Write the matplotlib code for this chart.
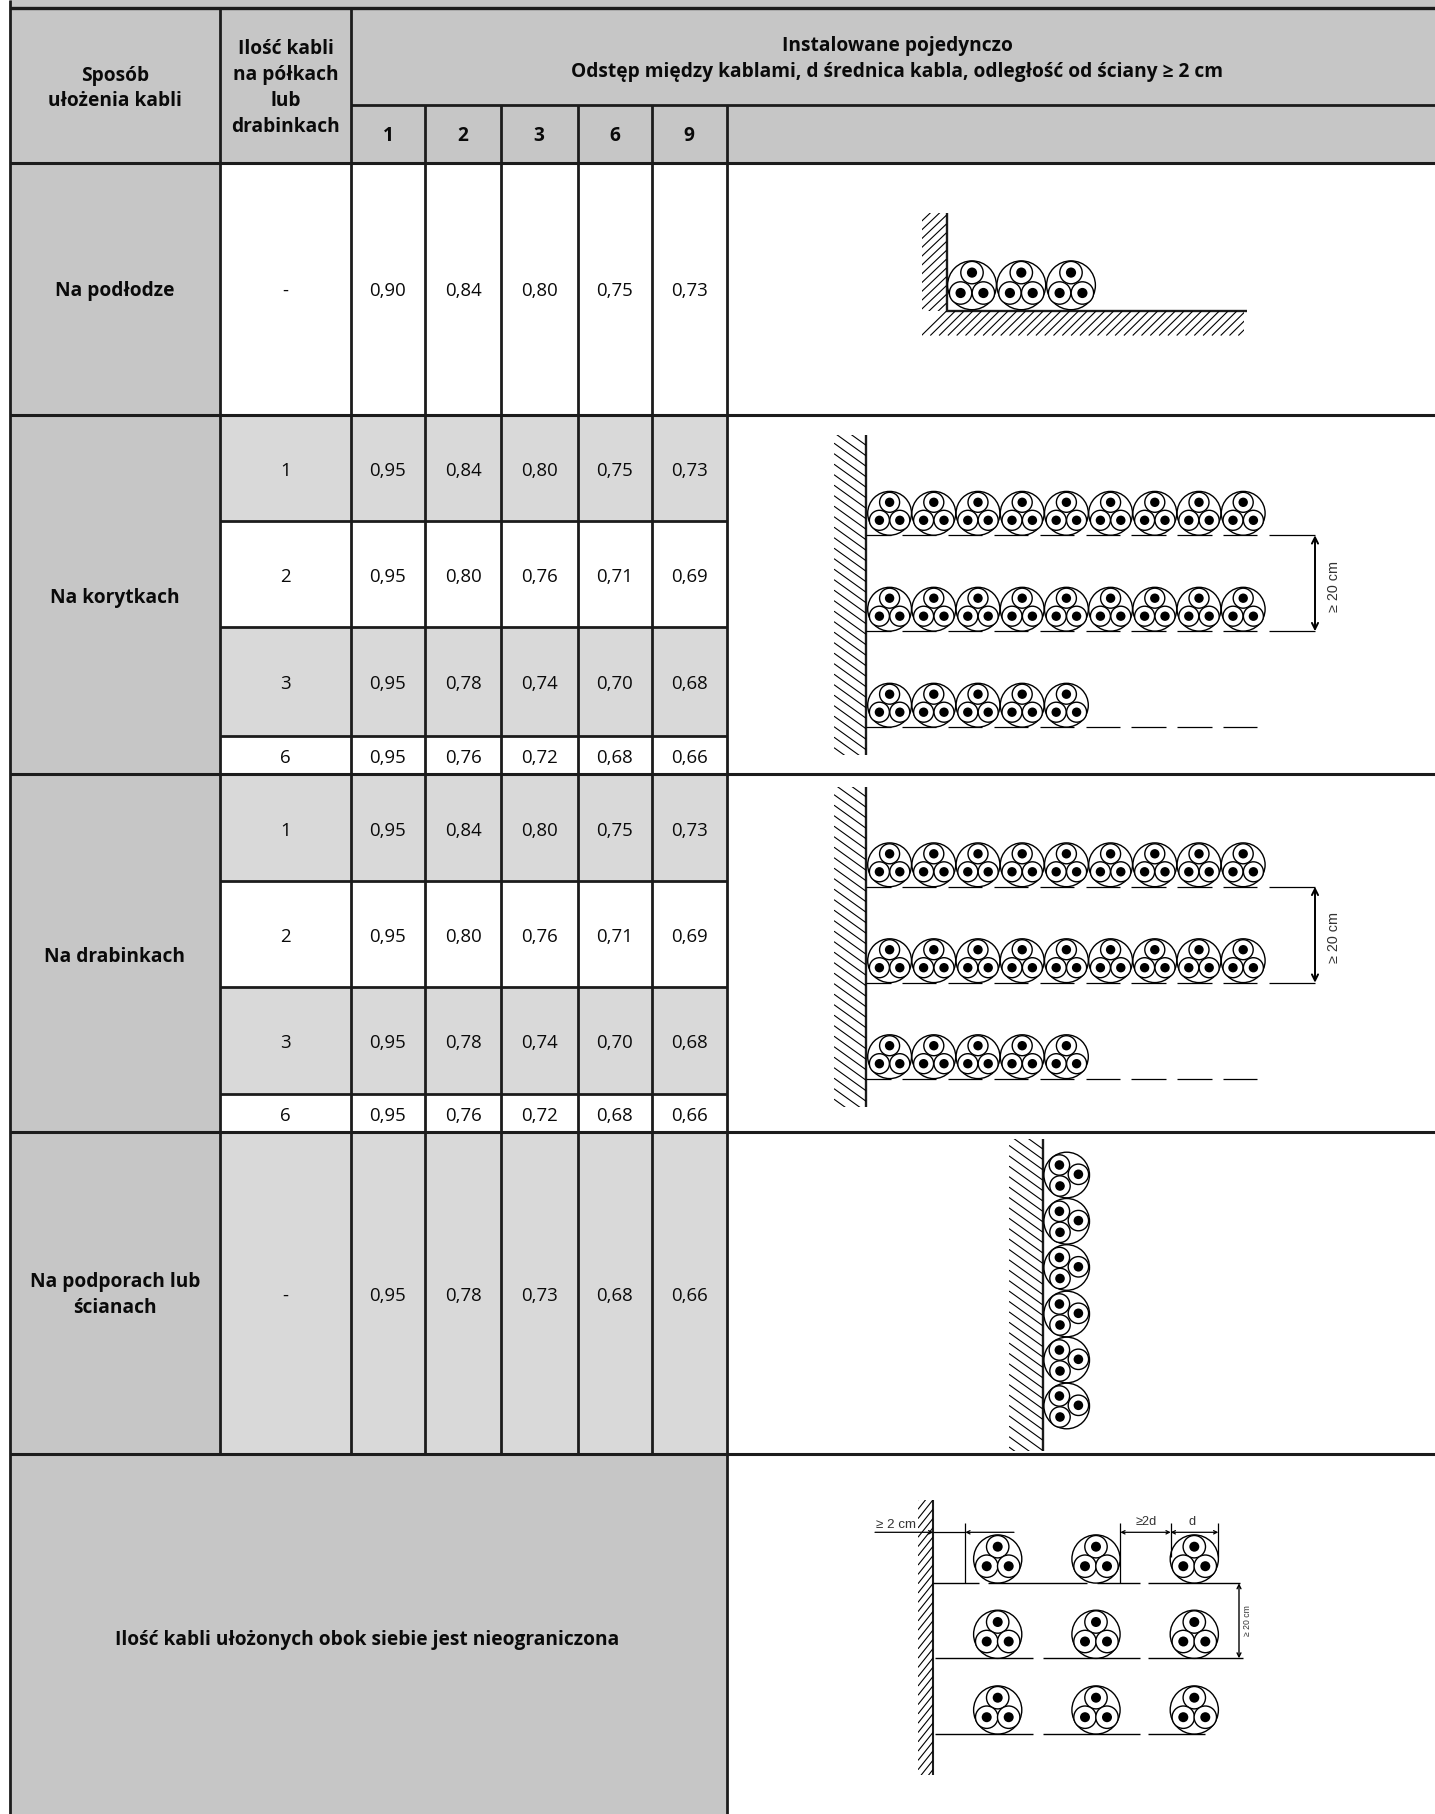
import matplotlib
matplotlib.use("Agg")
import matplotlib.pyplot as plt
from matplotlib.patches import Circle, Rectangle

plt.rcParams['font.family'] = ['Open Sans', 'DejaVu Sans']

# ---- table content ----
cable_counts = ['1', '2', '3', '6', '9']
method_labels = ['Na podłodze', 'Na korytkach', 'Na drabinkach', 'Na podporach lub\nścianach']
shelf_labels = ['-', '1', '2', '3', '6', '1', '2', '3', '6', '-']
row_values = [
    ['0,90', '0,84', '0,80', '0,75', '0,73'],
    ['0,95', '0,84', '0,80', '0,75', '0,73'],
    ['0,95', '0,80', '0,76', '0,71', '0,69'],
    ['0,95', '0,78', '0,74', '0,70', '0,68'],
    ['0,95', '0,76', '0,72', '0,68', '0,66'],
    ['0,95', '0,84', '0,80', '0,75', '0,73'],
    ['0,95', '0,80', '0,76', '0,71', '0,69'],
    ['0,95', '0,78', '0,74', '0,70', '0,68'],
    ['0,95', '0,76', '0,72', '0,68', '0,66'],
    ['0,95', '0,78', '0,73', '0,68', '0,66'],
]
row_shaded = [False, True, False, True, False, True, False, True, False, True]
header_method = 'Sposób\nułożenia kabli'
header_shelves = 'Ilość kabli\nna półkach\nlub\ndrabinkach'
header_main = ['Instalowane pojedynczo',
               'Odstęp między kablami, d średnica kabla, odległość od ściany ≥ 2 cm']
footer_note = 'Ilość kabli ułożonych obok siebie jest nieograniczona'

# ---- layout (pixels of the page) ----
W, H = 1435, 1814
col_x = [10, 220, 351, 425, 501, 577.5, 652, 726.5]
row_y = [163, 414.5, 521, 627, 735.5, 774, 881, 987, 1093.5, 1132, 1453.5]
LINE = '#1c1c1c'
GREY = '#c6c6c6'
LIGHT = '#d9d9d9'
TLW = 2.0

fig = plt.figure(figsize=(W / 100, H / 100), dpi=100, facecolor='white')
ax = fig.add_axes([0, 0, 1, 1])
ax.set_xlim(0, W)
ax.set_ylim(H, 0)
ax.axis('off')


def fill(x0, y0, x1, y1, c, z=0):
    ax.add_patch(Rectangle((x0, y0), x1 - x0, y1 - y0, fc=c, ec='none', zorder=z))


def hl(y, x0, x1, lw=TLW):
    ax.plot([x0, x1], [y, y], color=LINE, lw=lw, solid_capstyle='butt', zorder=3)


def vl(x, y0, y1, lw=TLW):
    ax.plot([x, x], [y0, y1], color=LINE, lw=lw, solid_capstyle='butt', zorder=3)


# ---- fills ----
fill(col_x[0], 0, W, row_y[0], GREY)
fill(col_x[0], row_y[0], col_x[1], row_y[-1], GREY)
fill(col_x[0], row_y[-1], col_x[-1], H, GREY)
for i, shaded in enumerate(row_shaded):
    if shaded:
        fill(col_x[1], row_y[i], col_x[-1], row_y[i + 1], LIGHT)

# ---- grid ----
hl(8, col_x[0], W, 2.4)
hl(105, col_x[2], W)
hl(row_y[0], col_x[0], W, 2.2)
for i in (1, 5, 9, 10):
    hl(row_y[i], col_x[0], W, 2.2)
for i in (2, 3, 4, 6, 7, 8):
    hl(row_y[i], col_x[1], col_x[-1])
vl(col_x[0], 0, H, 2.0)
vl(col_x[1], 8, row_y[-1])
vl(col_x[2], 8, row_y[-1])
for x in col_x[3:7]:
    vl(x, 105, row_y[-1])
vl(col_x[-1], 105, H)

# ---- text ----
BOLD = dict(fontweight='bold', ha='center', va='baseline', color='#0a0a0a', zorder=5)
REG = dict(ha='center', va='baseline', color='#0a0a0a', zorder=5)
FS = 13.4
FB = 13.8


def lines(x, baselines, text, **kw):
    for b, t in zip(baselines, text.split('\n')):
        ax.text(x, b, t, **kw)


lines(115, [80.5, 106.5], header_method, fontsize=FB, **BOLD)
lines(285.5, [54.5, 80, 106.5, 132], header_shelves, fontsize=FB, **BOLD)
lines(897, [51, 77], '\n'.join(header_main), fontsize=FB, **BOLD)
val_x = [388, 463, 539, 614.5, 689]
for x, c in zip(val_x, cable_counts):
    ax.text(x, 141, c, fontsize=FB, **BOLD)

method_base = [[296], [602.7], [961.5], [1287.5, 1313]]
for b, t in zip(method_base, method_labels):
    lines(115, b, t, fontsize=FB, **BOLD)
lines(367.5, [1645], footer_note, fontsize=FB, **BOLD)

row_base = [296, 476, 582, 689, 763, 836, 942, 1048, 1121, 1301]
for base, lab, vals in zip(row_base, shelf_labels, row_values):
    ax.text(285.5, base, lab, fontsize=FS, **REG)
    for x, v in zip(val_x, vals):
        ax.text(x, base, v, fontsize=FS, **REG)


# ---- drawing helpers ----
DLW = 1.0


def seg(x0, y0, x1, y1, lw=0.9, c='black', clip=None):
    ln, = ax.plot([x0, x1], [y0, y1], color=c, lw=lw, solid_capstyle='butt', zorder=4)
    if clip is not None:
        ln.set_clip_path(clip)
    return ln


def cable(cx, cy, R, cores, r, dot):
    ax.add_patch(Circle((cx, cy), R, fc='white', ec='black', lw=DLW, zorder=4))
    for dx, dy in cores:
        ax.add_patch(Circle((cx + dx, cy + dy), r, fc='white', ec='black', lw=DLW, zorder=4.1))
        ax.add_patch(Circle((cx + dx, cy + dy), dot, fc='black', ec='none', zorder=4.2))


def hatch(x0, y0, x1, y1, step, dxdy, sign):
    """slanted lines clipped to a box; sign=+1 '\\', sign=-1 '/'"""
    clip = Rectangle((x0, y0), x1 - x0, y1 - y0, transform=ax.transData)
    w = x1 - x0
    rise = w * dxdy
    y = y0 - rise - step
    while y < y1 + rise + step:
        if sign > 0:
            seg(x0, y, x1, y + rise, lw=0.8, clip=clip)
        else:
            seg(x0, y + rise, x1, y, lw=0.8, clip=clip)
        y += step


def arrow(x0, y0, x1, y1, ms=6, lw=0.9):
    ax.annotate('', xy=(x1, y1), xytext=(x0, y0),
                arrowprops=dict(arrowstyle='<->', lw=lw, color='black', shrinkA=0, shrinkB=0,
                                mutation_scale=ms), zorder=5)


def arrow1(x0, y0, x1, y1, ms=6, lw=0.9):
    ax.annotate('', xy=(x1, y1), xytext=(x0, y0),
                arrowprops=dict(arrowstyle='->', lw=lw, color='black', shrinkA=0, shrinkB=0,
                                mutation_scale=ms), zorder=5)


ARIAL = 'Liberation Sans'

# ---- diagram 1: floor ----
hatch(921.5, 212.5, 946.5, 311, 8.8, 0.95, -1)
clip_f = Rectangle((921.5, 311), 322, 24.5, transform=ax.transData)
fx = 921.5
while fx < 1265:
    seg(fx, 335.5, fx + 25, 311, lw=0.8, clip=clip_f)
    fx += 8.8
vl(946.7, 212.5, 312, 1.7)
hl(310.8, 946, 1246.5, 1.7)
core_floor = [(0, -12.7), (-11.4, 7.7), (11.4, 7.7)]
for cx in (972, 1021.3, 1071):
    cable(cx, 285.3, 24.4, core_floor, 11.2, 5.1)

# ---- diagrams 2 and 3: nine cables on shelves ----
core_shelf = [(0, -11), (-10.2, 7), (10.2, 7)]
for off in (0, 351.5):
    wall_x = 866.4
    hatch(834, 435 + off, wall_x, 755 + off, 10.5, 0.72, +1)
    vl(wall_x, 435 + off, 755 + off, 1.7)
    shelves = [(535.3, 9, True), (631.2, 9, True), (727.2, 5, False)]
    for sy, n, long_end in shelves:
        seg(wall_x, sy + off, 891, sy + off)
        for k in range(8):
            x0 = 902.1 + k * 45.85
            seg(x0, sy + off, x0 + 34.3, sy + off)
        if long_end:
            seg(1269, sy + off, 1315, sy + off)
        for k in range(n):
            cable(889.6 + k * 44.2, sy + off - 22, 21.9, core_shelf, 10.0, 4.7)
    arrow(1315, 535.3 + off, 1315, 631.2 + off, ms=11, lw=1.4)
    ax.text(1334, 586 + off, '≥ 20 cm', rotation=90, fontsize=10.4, family=ARIAL, color='#333333',
            ha='center', va='center', zorder=5)

# ---- diagram 4: wall ----
hatch(1009, 1138.5, 1042.7, 1451, 10.4, 0.72, +1)
vl(1042.7, 1138.5, 1451, 1.7)
core_wall = [(-7.3, -10), (11.7, -0.7), (-6.7, 11)]
for cy in (1175, 1221.3, 1267.5, 1314, 1360, 1406):
    cable(1066.7, cy, 22.8, core_wall, 10.2, 4.8)

# ---- diagram 5: spaced cables ----
hatch(918, 1500, 933.3, 1775, 9.3, 1.25, -1)
vl(933.3, 1500, 1775, 1.5)
core_spaced = [(0, -12.3), (-11, 7.2), (11, 7.2)]
for cx in (997.7, 1096, 1194.3):
    for cy in (1559, 1634.3, 1710):
        cable(cx, cy, 24.1, core_spaced, 11.2, 5.0)
shelf_segments = [
    (1583.3, [(933, 979), (988, 1087), (1097, 1140), (1148, 1240)]),
    (1658.3, [(935, 1033), (1043, 1140), (1148, 1243)]),
    (1733.7, [(935, 1033), (1043, 1140), (1148, 1205)]),
]
for sy, parts in shelf_segments:
    for a, b in parts:
        seg(a, sy, b, sy, lw=1.0)
for x, y1 in ((965.3, 1583.3), (1120.3, 1583.3), (1170.7, 1557), (1218.3, 1557)):
    seg(x, 1522.5, x, y1)
dim_y = 1532.3
arrow1(875, dim_y, 933.3, dim_y)
seg(933.3, dim_y, 965.3, dim_y)
arrow1(1014, dim_y, 965.3, dim_y)
arrow(1120.3, dim_y, 1170.7, dim_y)
arrow(1170.7, dim_y, 1218.3, dim_y)
arrow(1239, 1583.3, 1239, 1658.3, ms=7, lw=1.0)
ax.text(875.5, 1524.5, '≥ 2 cm', fontsize=9.6, family=ARIAL, color='#333333', ha='left', va='center', zorder=5)
ax.text(1146.5, 1522, '≥2d', fontsize=9.2, family=ARIAL, color='#333333', ha='center', va='center', zorder=5)
ax.text(1192.5, 1522, 'd', fontsize=9.2, family=ARIAL, color='#333333', ha='center', va='center', zorder=5)
ax.text(1248, 1621, '≥ 20 cm', rotation=90, fontsize=6.2, family=ARIAL, color='#333333',
        ha='center', va='center', zorder=5)

fig.savefig('out.png', dpi=100, facecolor='white')
